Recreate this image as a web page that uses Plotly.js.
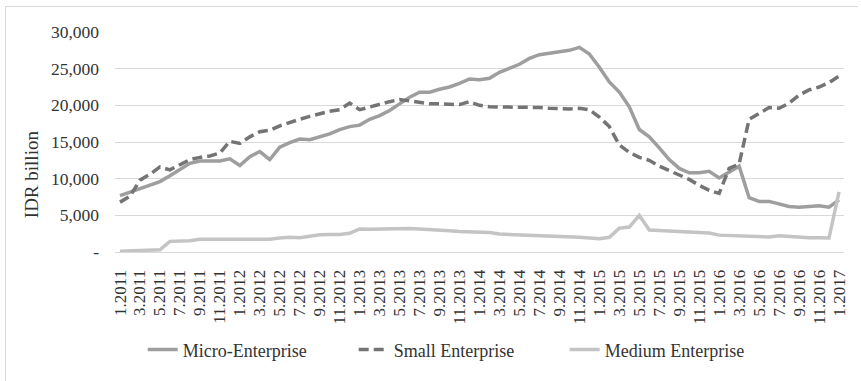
<!DOCTYPE html>
<html>
<head>
<meta charset="utf-8">
<script src="https://cdn.plot.ly/plotly-3.0.1.min.js"></script>
<style>
  html, body { margin: 0; padding: 0; background: #ffffff; }
  #wrap { position: relative; width: 861px; height: 381px; }
  #chart { width: 861px; height: 381px; }
  #frame { position: absolute; left: 5px; top: 6px; width: 852px; height: 380px;
           border-left: 1px solid #d9d9d9; border-top: 1px solid #d9d9d9; pointer-events: none; }
</style>
</head>
<body>
<div id="wrap">
  <div id="chart"></div>
  <div id="frame"></div>
</div>
<script>
// Monthly periods, 1.2011 .. 1.2017
const months = [
  "1.2011","2.2011","3.2011","4.2011","5.2011","6.2011","7.2011","8.2011","9.2011","10.2011","11.2011","12.2011",
  "1.2012","2.2012","3.2012","4.2012","5.2012","6.2012","7.2012","8.2012","9.2012","10.2012","11.2012","12.2012",
  "1.2013","2.2013","3.2013","4.2013","5.2013","6.2013","7.2013","8.2013","9.2013","10.2013","11.2013","12.2013",
  "1.2014","2.2014","3.2014","4.2014","5.2014","6.2014","7.2014","8.2014","9.2014","10.2014","11.2014","12.2014",
  "1.2015","2.2015","3.2015","4.2015","5.2015","6.2015","7.2015","8.2015","9.2015","10.2015","11.2015","12.2015",
  "1.2016","2.2016","3.2016","4.2016","5.2016","6.2016","7.2016","8.2016","9.2016","10.2016","11.2016","12.2016",
  "1.2017"
];

// Tick labels shown on the x axis (every second month)
const xTickLabels = [
  "1.2011","3.2011","5.2011","7.2011","9.2011","11.2011",
  "1.2012","3.2012","5.2012","7.2012","9.2012","11.2012",
  "1.2013","3.2013","5.2013","7.2013","9.2013","11.2013",
  "1.2014","3.2014","5.2014","7.2014","9.2014","11.2014",
  "1.2015","3.2015","5.2015","7.2015","9.2015","11.2015",
  "1.2016","3.2016","5.2016","7.2016","9.2016","11.2016",
  "1.2017"
];

// Y axis ticks
const yTickValues = [0, 5000, 10000, 15000, 20000, 25000, 30000];
const yTickLabels = ["-", "5,000", "10,000", "15,000", "20,000", "25,000", "30,000"];
const yAxisTitle = "IDR billion";

// Series (IDR billion)
const microEnterprise = [
  7700, 8200, 8600, 9100, 9600, 10400, 11300, 12100, 12400, 12400, 12400, 12700,
  11800, 13000, 13700, 12600, 14300, 14900, 15400, 15300, 15700, 16100, 16700, 17100,
  17300, 18100, 18600, 19300, 20200, 21100, 21800, 21800, 22200, 22500, 23000, 23600,
  23500, 23700, 24500, 25000, 25600, 26400, 26900, 27100, 27300, 27500, 27900, 27000,
  25200, 23200, 21800, 19800, 16700, 15700, 14200, 12600, 11400, 10800, 10800, 11000,
  10100, 10900, 11700, 7400, 6900, 6900, 6500, 6200, 6100, 6200, 6300, 6100,
  7100
];

const smallEnterprise = [
  6800, 7600, 9800, 10600, 11600, 11200, 11900, 12600, 12900, 13100, 13500, 15100,
  14800, 15700, 16400, 16600, 17200, 17700, 18100, 18500, 18900, 19200, 19400, 20300,
  19400, 19800, 20100, 20500, 20800, 20600, 20300, 20200, 20200, 20200, 20100, 20500,
  20000, 19800, 19800, 19800, 19800, 19800, 19700, 19600, 19500, 19500, 19600, 19400,
  18400, 17100, 14600, 13600, 12900, 12500, 11700, 11100, 10500, 9900, 9100, 8400,
  8000, 11400, 12000, 18100, 18900, 19700, 19600, 20300, 21400, 22100, 22500, 23100,
  24000
];

const mediumEnterprise = [
  100, 150, 200, 250, 300, 1450, 1500, 1550, 1750, 1750, 1800, 1800,
  1800, 1750, 1700, 1750, 1900, 2000, 1950, 2200, 2350, 2400, 2400, 2550,
  3150, 3100, 3150, 3100, 3150, 3200, 3150, 3100, 3000, 2900, 2800, 2750,
  2650, 2650, 2450, 2400, 2400, 2350, 2200, 2200, 2100, 2050, 2000, 1900,
  1800, 2000, 3250, 3400, 5000, 3000, 2950, 2900, 2850, 2800, 2700, 2600,
  2300, 2250, 2250, 2200, 2050, 2050, 2200, 2100, 2000, 1950, 1950, 1900,
  8200
];

const seriesNames = ["Micro-Enterprise", "Small Enterprise", "Medium Enterprise"];

const FONT = "Liberation Serif, Tinos, DejaVu Serif, serif";

const traces = [
  {
    x: months, y: microEnterprise, name: seriesNames[0], type: "scatter", mode: "lines",
    line: { color: "#9e9e9e", width: 3.5 }
  },
  {
    x: months, y: smallEnterprise, name: seriesNames[1], type: "scatter", mode: "lines",
    line: { color: "#747474", width: 3.5, dash: "10px,5px" }
  },
  {
    x: months, y: mediumEnterprise, name: seriesNames[2], type: "scatter", mode: "lines",
    line: { color: "#c4c4c4", width: 3.5 }
  }
];

const layout = {
  width: 861, height: 381,
  margin: { l: 115, r: 17, t: 32, b: 129 },
  paper_bgcolor: "rgba(0,0,0,0)",
  plot_bgcolor: "#ffffff",
  font: { family: FONT, size: 17, color: "#333333" },
  showlegend: true,
  legend: {
    orientation: "h", x: 0.038, xanchor: "left", y: -0.445, yanchor: "middle",
    font: { family: FONT, size: 18, color: "#333333" },
    entrywidth: 166, entrywidthmode: "pixels", tracegroupgap: 0
  },
  xaxis: {
    type: "category",
    categoryorder: "array", categoryarray: months,
    range: [-0.5, months.length - 0.5],
    tickmode: "array", tickvals: xTickLabels, ticktext: xTickLabels,
    tickangle: -90,
    tickfont: { family: FONT, size: 17, color: "#333333" },
    showgrid: false,
    showline: true, linecolor: "#d9d9d9", linewidth: 1,
    ticks: "", ticklabelstandoff: 10,
    fixedrange: true
  },
  yaxis: {
    range: [0, 30000],
    tickmode: "array", tickvals: yTickValues, ticktext: yTickLabels,
    tickfont: { family: FONT, size: 17.5, color: "#333333" },
    showgrid: true, gridcolor: "#d9d9d9", gridwidth: 1,
    zeroline: false, showline: false, ticks: "",
    ticklabelstandoff: 15,
    fixedrange: true
  },
  annotations: [
    {
      text: yAxisTitle, xref: "paper", yref: "paper",
      x: -0.115, y: 0.3545, xanchor: "center", yanchor: "middle",
      textangle: -90, showarrow: false,
      font: { family: FONT, size: 19, color: "#333333" }
    }
  ]
};

Plotly.newPlot("chart", traces, layout, { displayModeBar: false, staticPlot: true });
</script>
</body>
</html>
